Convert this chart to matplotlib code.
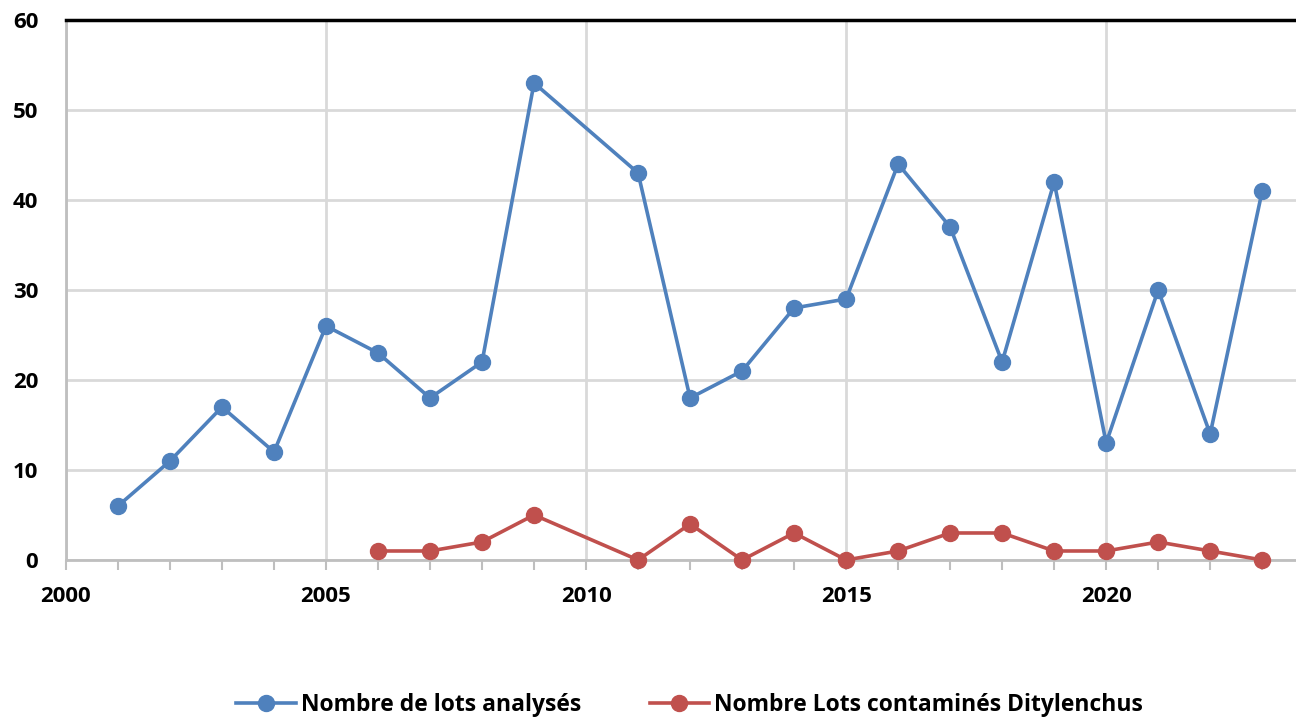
import matplotlib.pyplot as plt

years_a = [2001, 2002, 2003, 2004, 2005, 2006, 2007, 2008, 2009, 2011, 2012,
           2013, 2014, 2015, 2016, 2017, 2018, 2019, 2020, 2021, 2022, 2023]
lots_analyses = [6, 11, 17, 12, 26, 23, 18, 22, 53, 43, 18,
                 21, 28, 29, 44, 37, 22, 42, 13, 30, 14, 41]

years_c = [2006, 2007, 2008, 2009, 2011, 2012, 2013, 2014, 2015, 2016,
           2017, 2018, 2019, 2020, 2021, 2022, 2023]
lots_contamines = [1, 1, 2, 5, 0, 4, 0, 3, 0, 1, 3, 3, 1, 1, 2, 1, 0]

label_a = "Nombre de lots analysés"
label_c = "Nombre Lots contaminés Ditylenchus"

plt.rcParams['font.family'] = ['Open Sans', 'DejaVu Sans']

fig = plt.figure(figsize=(12.96, 7.22), dpi=100)
ax = fig.add_axes([0.0509, 0.2244, 0.9491, 0.7479])

ax.plot(years_a, lots_analyses, color='#4F81BD', lw=2.6, marker='o', ms=11.5,
        label=label_a, zorder=3, clip_on=False)
ax.plot(years_c, lots_contamines, color='#C0504D', lw=2.6, marker='o', ms=11.5,
        label=label_c, zorder=3, clip_on=False)

ax.set_xlim(2000, 2023.65)
ax.set_ylim(0, 60)
ax.set_xticks(range(2000, 2021, 5))
ax.set_xticks(range(2000, 2024), minor=True)
ax.set_yticks(range(0, 61, 10))
ax.grid(True, which='major', color='#D9D9D9', lw=2)
ax.set_axisbelow(True)

ax.spines['right'].set_visible(False)
ax.spines['top'].set_color('black')
ax.spines['top'].set_linewidth(2.5)
ax.spines['left'].set_color('#BFBFBF')
ax.spines['left'].set_linewidth(2)
ax.spines['bottom'].set_color('#BFBFBF')
ax.spines['bottom'].set_linewidth(2)

ax.tick_params(axis='y', length=0, pad=20, labelsize=16)
ax.tick_params(axis='x', which='both', length=7, width=1.5, color='#BFBFBF',
               direction='out', pad=12, labelsize=16)
for lab in ax.get_xticklabels() + ax.get_yticklabels():
    lab.set_fontweight('bold')

fig.legend(loc='lower center', bbox_to_anchor=(0.532, -0.022), ncol=2,
           frameon=False, prop={'weight': 'bold', 'size': 16.5},
           handlelength=2.6, columnspacing=3.0, handletextpad=0.2)

fig.savefig('out.png', dpi=100)
